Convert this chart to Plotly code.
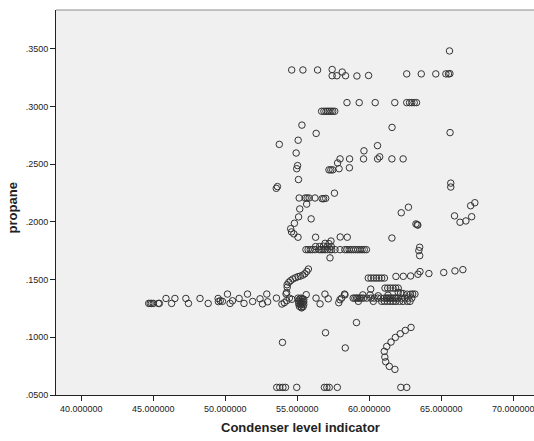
import plotly.graph_objects as go

# Condenser level indicator (x) and propane fraction (y), grouped by region of the cloud
upper_x = [65.57, 54.61, 55.39, 56.41, 57.42, 58.12,
           62.60, 63.61, 64.62, 65.32, 65.50, 65.60,
           57.42, 57.75, 58.35, 59.14, 59.95,
           58.45, 59.30, 60.41, 61.77, 62.60, 62.80, 62.95, 63.12, 63.28,
           56.69, 56.85, 56.99, 57.11, 57.22, 57.34, 57.46, 57.60,
           55.32, 56.31, 61.58, 65.61,
           53.75, 55.06, 60.57, 54.92, 59.63, 60.72,
           57.97, 58.63, 59.60, 60.58, 61.57, 62.35,
           57.80, 55.02, 54.96, 57.90, 58.62,
           57.20, 57.33, 57.46,
           55.08, 53.62, 53.54, 65.66, 65.66, 57.58]
upper_y = [0.3483, 0.3318, 0.3318, 0.3318, 0.3322, 0.3300,
           0.3284, 0.3284, 0.3284, 0.3284, 0.3284, 0.3286,
           0.3268, 0.3268, 0.3268, 0.3266, 0.3270,
           0.3035, 0.3035, 0.3035, 0.3035, 0.3035, 0.3035, 0.3035, 0.3035, 0.3035,
           0.2960, 0.2960, 0.2960, 0.2960, 0.2960, 0.2960, 0.2960, 0.2960,
           0.2840, 0.2768, 0.2820, 0.2775,
           0.2673, 0.2709, 0.2662, 0.2598, 0.2617, 0.2565,
           0.2547, 0.2547, 0.2547, 0.2547, 0.2547, 0.2547,
           0.2512, 0.2489, 0.2462, 0.2462, 0.2470,
           0.2452, 0.2452, 0.2452,
           0.2368, 0.2307, 0.2292, 0.2337, 0.2303, 0.2250]

middle_x = [55.13, 55.55, 55.68, 55.82, 56.23, 56.72, 56.83, 56.97,
            55.65, 62.72, 55.17, 67.33, 67.04, 62.22, 55.96, 55.09,
            65.92, 67.11, 66.71, 66.30, 54.80, 63.24, 63.33, 63.37,
            54.54, 54.60, 54.76,
            55.05, 56.27, 57.98, 58.47, 61.57,
            63.50, 63.44, 63.50, 57.27,
            56.27, 56.55, 56.82, 57.08, 57.36, 56.93, 57.20, 57.34,
            55.60, 55.75, 55.90, 56.05, 56.23, 56.51, 56.65, 56.78, 56.92,
            57.09, 57.27, 57.39, 57.62, 57.97, 58.30, 58.45, 58.60, 58.75,
            58.90, 59.05, 59.20, 59.35, 59.50, 59.65, 59.80]
middle_y = [0.2208, 0.2208, 0.2208, 0.2208, 0.2208, 0.2202, 0.2202, 0.2205,
            0.2155, 0.2128, 0.2113, 0.2167, 0.2141, 0.2080, 0.2027, 0.2044,
            0.2053, 0.2046, 0.2009, 0.1998, 0.1989, 0.1983, 0.1977, 0.1973,
            0.1942, 0.1914, 0.1897,
            0.1868, 0.1868, 0.1870, 0.1868, 0.1861,
            0.1781, 0.1752, 0.1708, 0.1689,
            0.1787, 0.1787, 0.1790, 0.1787, 0.1787, 0.1815, 0.1812, 0.1835,
            0.1760, 0.1760, 0.1760, 0.1760, 0.1760, 0.1760, 0.1760, 0.1760, 0.1760,
            0.1760, 0.1760, 0.1760, 0.1760, 0.1760, 0.1760, 0.1760, 0.1760, 0.1760,
            0.1760, 0.1760, 0.1760, 0.1760, 0.1760, 0.1760, 0.1760]

rise_x = [55.77, 55.66, 55.52, 55.38, 55.21, 55.05, 54.88, 54.69, 54.53,
          54.41, 54.29, 54.30, 54.26,
          59.93, 60.12, 60.31, 60.49, 60.67, 60.86, 61.05,
          61.85, 62.36, 62.87, 63.38, 63.52, 64.14, 65.17, 65.95, 66.50,
          61.09, 61.28, 61.46, 61.65, 61.83, 62.01, 60.10,
          62.63, 62.86, 63.01, 63.17, 62.01, 62.18, 62.35]
rise_y = [0.1592, 0.1571, 0.1551, 0.1540, 0.1531, 0.1526, 0.1517, 0.1506, 0.1491,
          0.1477, 0.1456, 0.1434, 0.1389,
          0.1514, 0.1514, 0.1514, 0.1514, 0.1514, 0.1514, 0.1514,
          0.1528, 0.1529, 0.1532, 0.1547, 0.1570, 0.1553, 0.1562, 0.1576, 0.1587,
          0.1427, 0.1427, 0.1427, 0.1427, 0.1427, 0.1427, 0.1418,
          0.1374, 0.1374, 0.1375, 0.1375, 0.1390, 0.1384, 0.1380]

band_x = [44.68, 44.78, 44.88, 45.00, 45.35, 45.42,
          45.88, 46.27, 46.50, 47.26, 47.44, 48.24, 48.81, 49.50, 49.52, 49.65,
          49.80, 50.15, 50.33, 50.50, 50.96, 51.30, 51.54, 51.90, 52.41, 52.58,
          52.88, 52.94, 53.55, 53.93, 54.10, 54.22, 54.26, 54.45, 54.62,
          55.05, 55.15, 55.25, 55.35, 55.45, 55.08, 55.20, 55.32, 55.45,
          55.10, 55.22, 55.35, 55.45, 55.15, 55.28, 55.40, 55.30,
          55.62, 56.30, 56.58, 56.92, 57.15, 57.88, 58.08, 58.28, 57.96, 58.31,
          58.88, 59.00, 59.12, 59.21, 59.33, 59.45, 59.60, 59.83, 60.11, 60.34,
          60.58, 60.81, 61.05, 61.20, 61.29, 61.40, 61.52, 61.64, 61.76, 61.88,
          61.99, 62.23, 62.46, 62.70, 62.95,
          59.24, 60.28, 60.86, 61.05, 61.25, 61.45, 61.65, 61.85, 62.10, 62.35,
          62.64, 62.83,
          59.55, 60.05, 60.62, 61.30]
band_y = [0.1294, 0.1294, 0.1294, 0.1294, 0.1294, 0.1294,
          0.1337, 0.1294, 0.1337, 0.1337, 0.1294, 0.1337, 0.1294, 0.1337, 0.1310, 0.1317,
          0.1312, 0.1375, 0.1294, 0.1317, 0.1337, 0.1294, 0.1375, 0.1311, 0.1334, 0.1290,
          0.1375, 0.1308, 0.1340, 0.1289, 0.1300, 0.1376, 0.1318, 0.1340, 0.1330,
          0.1340, 0.1330, 0.1340, 0.1335, 0.1330, 0.1315, 0.1310, 0.1312, 0.1308,
          0.1290, 0.1285, 0.1290, 0.1285, 0.1268, 0.1262, 0.1265, 0.1255,
          0.1370, 0.1340, 0.1290, 0.1375, 0.1334, 0.1300, 0.1340, 0.1375, 0.1326, 0.1368,
          0.1340, 0.1340, 0.1340, 0.1340, 0.1340, 0.1340, 0.1340, 0.1340, 0.1340, 0.1340,
          0.1340, 0.1340, 0.1340, 0.1340, 0.1340, 0.1340, 0.1340, 0.1340, 0.1340, 0.1340,
          0.1340, 0.1340, 0.1340, 0.1340, 0.1340,
          0.1312, 0.1312, 0.1312, 0.1312, 0.1312, 0.1312, 0.1312, 0.1312, 0.1312, 0.1312,
          0.1312, 0.1312,
          0.1368, 0.1368, 0.1360, 0.1365]

lower_x = [59.11, 56.96, 53.97, 58.33,
           62.90, 62.50, 62.15, 61.81, 61.51, 61.21, 61.04, 61.08, 61.14, 61.39, 61.78,
           53.57, 53.78, 54.00, 54.18, 54.96, 56.88, 57.05, 57.22, 57.78, 62.19, 62.60]
lower_y = [0.1128, 0.1040, 0.0956, 0.0908,
           0.1086, 0.1060, 0.1031, 0.0999, 0.0959, 0.0921, 0.0878, 0.0829, 0.0788, 0.0748, 0.0722,
           0.0566, 0.0566, 0.0566, 0.0566, 0.0566, 0.0566, 0.0566, 0.0566, 0.0566, 0.0566, 0.0566]

condenser_level = upper_x + middle_x + rise_x + band_x + lower_x
propane = upper_y + middle_y + rise_y + band_y + lower_y

x_ticks = [40, 45, 50, 55, 60, 65, 70]
y_ticks = [0.05, 0.10, 0.15, 0.20, 0.25, 0.30, 0.35]

FONT = "Liberation Sans, Arial, sans-serif"

fig = go.Figure(go.Scatter(
    x=condenser_level, y=propane, mode="markers",
    marker=dict(symbol="circle-open", size=6.5, color="#333333",
                line=dict(width=1, color="#333333")),
    hoverinfo="x+y",
))

fig.update_layout(
    width=534, height=441,
    margin=dict(l=56, r=0, t=10, b=46),
    paper_bgcolor="white", plot_bgcolor="#f0f0f0",
    showlegend=False,
    font=dict(family=FONT, size=9, color="#222222"),
    xaxis=dict(range=[38.24, 71.44], tickvals=x_ticks,
               ticktext=[f"{v:.6f}" for v in x_ticks],
               ticklabeloverflow="allow",
               ticks="outside", ticklen=5, tickcolor="#222222",
               showline=True, linecolor="#222222", linewidth=1,
               showgrid=False, zeroline=False),
    yaxis=dict(range=[0.05, 0.3838], tickvals=y_ticks,
               ticktext=[f"{v:.4f}".lstrip("0") for v in y_ticks],
               ticks="outside", ticklen=5, tickcolor="#222222",
               showline=True, linecolor="#222222", linewidth=1,
               showgrid=False, zeroline=False),
    shapes=[dict(type="line", xref="paper", yref="paper", x0=0, x1=1, y0=1, y1=1,
                 line=dict(color="#8c8c8c", width=1))],
    annotations=[
        dict(text="Condenser level indicator", xref="paper", yref="paper",
             x=0.5105, y=-0.085, xanchor="center", yanchor="middle", showarrow=False,
             font=dict(family=FONT, size=13, color="#222222", weight="bold")),
        dict(text="propane", xref="paper", yref="paper", textangle=-90,
             x=-0.091, y=0.486, xanchor="center", yanchor="middle", showarrow=False,
             font=dict(family=FONT, size=13, color="#222222", weight="bold")),
    ],
)

fig.write_html("out.html")
